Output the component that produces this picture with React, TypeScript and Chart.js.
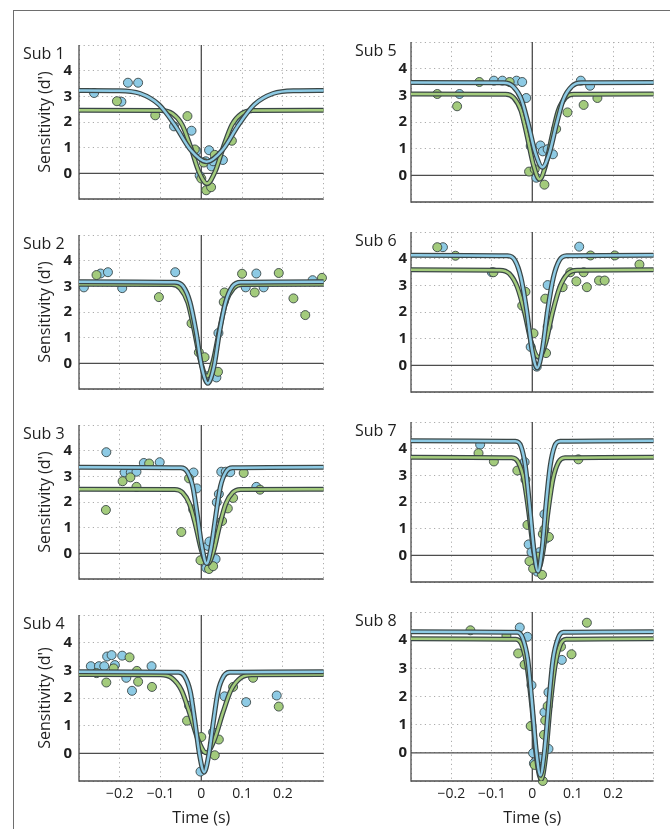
import React, { useEffect, useRef } from 'react';
import { Chart, registerables } from 'chart.js';

Chart.register(...registerables);

// ---------- labels / ticks ----------
const subjectNames = ['Sub 1', 'Sub 2', 'Sub 3', 'Sub 4', 'Sub 5', 'Sub 6', 'Sub 7', 'Sub 8'];
const xGridValues = [-0.3, -0.2, -0.1, 0, 0.1, 0.2, 0.3];
const xLabelValues = [-0.2, -0.1, 0, 0.1, 0.2];
const yGridValues = [-1, 0, 1, 2, 3, 4, 5];
const yLabelValues = [0, 1, 2, 3, 4];
const xTitle = 'Time (s)';
const yTitle = "Sensitivity (d')";

// ---------- data points [time (s), d'] ----------
const sub1Blue = [[-0.263, 3.13], [-0.196, 2.79], [-0.18, 3.53], [-0.155, 3.53], [-0.067, 1.83], [-0.024, 1.66], [-0.012, 0.87], [-0.004, -0.09], [0.011, 0.47], [0.019, 0.9], [0.025, 0.27], [0.029, 0.47], [0.053, 0.52], [0.09, 2.06]];
const sub1Green = [[-0.207, 2.81], [-0.113, 2.26], [-0.034, 2.23], [-0.016, 0.93], [0.0, -0.2], [0.006, 0.42], [0.012, -0.66], [0.024, -0.54], [0.033, 0.72], [0.075, 1.27]];
const sub2Blue = [[-0.288, 2.96], [-0.247, 3.5], [-0.229, 3.55], [-0.194, 2.93], [-0.064, 3.55], [0.016, -0.5], [0.037, -0.55], [0.042, 1.18], [0.109, 2.96], [0.135, 3.5], [0.153, 2.96], [0.273, 3.24]];
const sub2Green = [[-0.257, 3.44], [-0.104, 2.58], [-0.024, 1.56], [-0.006, 0.43], [0.008, 0.24], [0.041, -0.33], [0.055, 2.39], [0.057, 2.76], [0.1, 3.49], [0.131, 2.76], [0.19, 3.52], [0.226, 2.53], [0.255, 1.88], [0.296, 3.33]];
const sub3Blue = [[-0.233, 3.94], [-0.188, 3.15], [-0.173, 3.15], [-0.159, 3.18], [-0.141, 3.52], [-0.102, 3.55], [-0.019, 3.15], [-0.011, 2.53], [0.012, -0.56], [0.016, 0.29], [0.02, 0.46], [0.035, -0.22], [0.038, 1.99], [0.043, 2.31], [0.049, 3.18], [0.06, 3.18], [0.071, 3.16], [0.135, 2.59]];
const sub3Green = [[-0.234, 1.69], [-0.193, 2.81], [-0.174, 2.96], [-0.159, 2.59], [-0.128, 3.5], [-0.049, 0.83], [-0.03, 2.92], [-0.02, 1.71], [-0.002, -0.27], [0.019, -0.61], [0.029, -0.5], [0.051, 1.26], [0.065, 1.75], [0.078, 2.16], [0.104, 3.13], [0.144, 2.48]];
const sub4Blue = [[-0.271, 3.15], [-0.251, 3.15], [-0.238, 3.15], [-0.231, 3.5], [-0.22, 3.55], [-0.212, 3.19], [-0.194, 3.53], [-0.184, 2.73], [-0.17, 2.26], [-0.122, 3.15], [-0.03, 1.72], [-0.002, -0.66], [0.029, 0.76], [0.057, 2.06], [0.11, 1.85], [0.185, 2.09]];
const sub4Green = [[-0.257, 2.9], [-0.233, 2.56], [-0.215, 3.07], [-0.176, 3.47], [-0.158, 2.98], [-0.155, 2.59], [-0.121, 2.4], [-0.035, 1.18], [0.0, 0.59], [0.033, -0.07], [0.043, 0.5], [0.078, 2.4], [0.127, 2.73], [0.19, 1.69]];
const sub5Blue = [[-0.18, 3.05], [-0.095, 3.55], [-0.074, 3.55], [-0.039, 3.55], [-0.025, 3.5], [-0.015, 2.9], [-0.004, 1.1], [0.01, -0.09], [0.02, 1.12], [0.026, 0.9], [0.038, 0.98], [0.051, 0.79], [0.12, 3.55], [0.143, 3.36]];
const sub5Green = [[-0.235, 3.05], [-0.186, 2.59], [-0.131, 3.5], [-0.056, 3.5], [-0.008, 0.14], [0.006, 0.23], [0.03, -0.35], [0.059, 1.74], [0.087, 2.36], [0.127, 2.64], [0.161, 2.9]];
const sub6Blue = [[-0.221, 4.43], [-0.1, 3.49], [-0.004, 0.69], [0.011, -0.05], [0.038, 3.01], [0.038, 1.45], [0.116, 4.45]];
const sub6Green = [[-0.235, 4.43], [-0.19, 4.11], [-0.096, 3.49], [-0.025, 2.24], [-0.017, 2.76], [0.003, 1.2], [0.032, 2.5], [0.034, 0.46], [0.075, 2.93], [0.094, 3.49], [0.109, 3.15], [0.127, 3.49], [0.135, 2.93], [0.144, 4.12], [0.165, 3.18], [0.179, 3.18], [0.204, 4.12], [0.265, 3.78]];
const sub7Blue = [[-0.129, 4.15], [-0.019, 3.5], [-0.009, 0.41], [-0.002, 0.12], [0.004, -0.44], [0.012, -0.61], [0.018, 0.12], [0.03, 1.54], [0.034, 0.63]];
const sub7Green = [[-0.133, 3.83], [-0.095, 3.52], [-0.037, 3.18], [-0.017, 2.84], [-0.012, 1.14], [-0.007, -0.22], [0.002, -0.5], [0.014, -0.05], [0.024, -0.73], [0.026, 0.8], [0.03, 0.97], [0.041, 0.69], [0.114, 3.6]];
const sub8Blue = [[-0.031, 4.45], [-0.012, 4.12], [-0.002, 2.4], [-0.002, 0.95], [0.002, -0.01], [0.004, -0.37], [0.018, -0.2], [0.03, 1.44], [0.04, 2.15], [0.04, 0.14], [0.073, 3.3]];
const sub8Green = [[-0.153, 4.35], [-0.064, 4.15], [-0.035, 3.53], [-0.019, 3.13], [-0.004, 0.95], [0.006, -0.43], [0.026, -1.0], [0.029, 0.64], [0.032, 1.15], [0.038, 1.66], [0.071, 3.77], [0.097, 3.5], [0.135, 4.62]];

// ---------- fitted curves [time (s), d'] ----------
const sub1BlueFit = [[-0.3, 3.23], [-0.202, 3.22], [-0.15, 3.11], [-0.104, 2.68], [-0.065, 1.88], [-0.026, 0.91], [0.013, 0.45], [0.052, 0.91], [0.091, 1.88], [0.13, 2.68], [0.176, 3.11], [0.228, 3.22], [0.3, 3.23]];
const sub1GreenFit = [[-0.3, 2.46], [-0.098, 2.45], [-0.071, 2.33], [-0.047, 1.89], [-0.027, 1.07], [-0.006, 0.07], [0.014, -0.4], [0.034, 0.07], [0.055, 1.07], [0.075, 1.89], [0.099, 2.33], [0.126, 2.45], [0.3, 2.46]];
const sub2BlueFit = [[-0.3, 3.18], [-0.065, 3.16], [-0.045, 3.01], [-0.028, 2.4], [-0.013, 1.25], [0.001, -0.13], [0.016, -0.78], [0.031, -0.13], [0.045, 1.25], [0.06, 2.4], [0.077, 3.01], [0.097, 3.16], [0.3, 3.18]];
const sub2GreenFit = [[-0.3, 3.08], [-0.072, 3.07], [-0.052, 2.92], [-0.033, 2.37], [-0.018, 1.34], [-0.002, 0.09], [0.014, -0.5], [0.029, 0.09], [0.045, 1.34], [0.06, 2.37], [0.079, 2.92], [0.099, 3.07], [0.3, 3.08]];
const sub3BlueFit = [[-0.3, 3.35], [-0.05, 3.33], [-0.035, 3.19], [-0.021, 2.61], [-0.01, 1.52], [0.002, 0.22], [0.013, -0.4], [0.024, 0.22], [0.036, 1.52], [0.047, 2.61], [0.061, 3.19], [0.076, 3.33], [0.3, 3.35]];
const sub3GreenFit = [[-0.3, 2.5], [-0.065, 2.49], [-0.046, 2.37], [-0.029, 1.93], [-0.014, 1.09], [0.001, 0.08], [0.016, -0.4], [0.03, 0.08], [0.045, 1.09], [0.06, 1.93], [0.077, 2.37], [0.096, 2.49], [0.3, 2.5]];
const sub4BlueFit = [[-0.3, 2.95], [-0.056, 2.93], [-0.041, 2.79], [-0.027, 2.23], [-0.016, 1.18], [-0.004, -0.08], [0.007, -0.68], [0.018, -0.08], [0.03, 1.18], [0.041, 2.23], [0.055, 2.79], [0.07, 2.93], [0.3, 2.95]];
const sub4GreenFit = [[-0.3, 2.85], [-0.1, 2.84], [-0.073, 2.73], [-0.049, 2.29], [-0.029, 1.47], [-0.008, 0.49], [0.012, 0.02], [0.032, 0.49], [0.053, 1.47], [0.073, 2.29], [0.097, 2.73], [0.124, 2.84], [0.3, 2.85]];
const sub5BlueFit = [[-0.3, 3.48], [-0.071, 3.47], [-0.048, 3.34], [-0.027, 2.85], [-0.01, 1.93], [0.008, 0.82], [0.025, 0.3], [0.042, 0.82], [0.06, 1.93], [0.077, 2.85], [0.098, 3.34], [0.121, 3.47], [0.3, 3.48]];
const sub5GreenFit = [[-0.3, 3.05], [-0.066, 3.04], [-0.046, 2.91], [-0.028, 2.42], [-0.013, 1.49], [0.003, 0.38], [0.018, -0.15], [0.033, 0.38], [0.049, 1.49], [0.064, 2.42], [0.082, 2.91], [0.102, 3.04], [0.3, 3.05]];
const sub6BlueFit = [[-0.3, 4.13], [-0.061, 4.11], [-0.043, 3.94], [-0.028, 3.29], [-0.014, 2.07], [-0.001, 0.6], [0.012, -0.1], [0.025, 0.6], [0.038, 2.07], [0.052, 3.29], [0.067, 3.94], [0.085, 4.11], [0.3, 4.13]];
const sub6GreenFit = [[-0.3, 3.58], [-0.08, 3.57], [-0.057, 3.44], [-0.037, 2.93], [-0.019, 1.98], [-0.002, 0.84], [0.016, 0.3], [0.033, 0.84], [0.05, 1.98], [0.068, 2.93], [0.088, 3.44], [0.111, 3.57], [0.3, 3.58]];
const sub7BlueFit = [[-0.3, 4.3], [-0.042, 4.28], [-0.028, 4.09], [-0.017, 3.33], [-0.007, 1.92], [0.004, 0.21], [0.014, -0.6], [0.024, 0.21], [0.034, 1.92], [0.044, 3.33], [0.055, 4.09], [0.069, 4.28], [0.3, 4.3]];
const sub7GreenFit = [[-0.3, 3.68], [-0.051, 3.66], [-0.035, 3.5], [-0.021, 2.85], [-0.009, 1.65], [0.003, 0.19], [0.015, -0.5], [0.027, 0.19], [0.039, 1.65], [0.051, 2.85], [0.065, 3.5], [0.081, 3.66], [0.3, 3.68]];
const sub8BlueFit = [[-0.3, 4.3], [-0.037, 4.28], [-0.024, 4.08], [-0.011, 3.29], [-0.001, 1.82], [0.01, 0.04], [0.02, -0.8], [0.03, 0.04], [0.041, 1.82], [0.051, 3.29], [0.064, 4.08], [0.077, 4.28], [0.3, 4.3]];
const sub8GreenFit = [[-0.3, 4.05], [-0.041, 4.03], [-0.026, 3.83], [-0.013, 3.06], [-0.001, 1.62], [0.01, -0.13], [0.022, -0.95], [0.033, -0.13], [0.044, 1.62], [0.056, 3.06], [0.069, 3.83], [0.084, 4.03], [0.3, 4.05]];

const panels = [
  { blue: sub1Blue, green: sub1Green, blueFit: sub1BlueFit, greenFit: sub1GreenFit },
  { blue: sub2Blue, green: sub2Green, blueFit: sub2BlueFit, greenFit: sub2GreenFit },
  { blue: sub3Blue, green: sub3Green, blueFit: sub3BlueFit, greenFit: sub3GreenFit },
  { blue: sub4Blue, green: sub4Green, blueFit: sub4BlueFit, greenFit: sub4GreenFit },
  { blue: sub5Blue, green: sub5Green, blueFit: sub5BlueFit, greenFit: sub5GreenFit },
  { blue: sub6Blue, green: sub6Green, blueFit: sub6BlueFit, greenFit: sub6GreenFit },
  { blue: sub7Blue, green: sub7Green, blueFit: sub7BlueFit, greenFit: sub7GreenFit },
  { blue: sub8Blue, green: sub8Green, blueFit: sub8BlueFit, greenFit: sub8GreenFit },
];

// ---------- style ----------
const FONT = "'Open Sans', 'Noto Sans', sans-serif";
const BLUE = '#8dcae4';
const GREEN = '#a3cb7c';
const OUTLINE = '#3b4747';
const AXIS = '#4d4d4d';
const GRID = '#ababab';

const toXY = (arr: number[][]) => arr.map(([x, y]) => ({ x, y }));

const fmtTime = (v: number) => {
  const r = Math.round(v * 10) / 10;
  if (r === 0) return '0';
  return (r < 0 ? '\u2212' : '') + Math.abs(r).toFixed(1);
};

const decorPlugin = {
  id: 'panelDecor',
  beforeDatasetsDraw(chart: any) {
    const { ctx, chartArea: a, scales } = chart;
    const x0 = scales.x.getPixelForValue(0);
    const y0 = scales.y.getPixelForValue(0);
    ctx.save();
    ctx.setLineDash([]);
    ctx.strokeStyle = AXIS;
    ctx.lineWidth = 1.3;
    ctx.beginPath();
    ctx.moveTo(x0, a.top);
    ctx.lineTo(x0, a.bottom);
    ctx.moveTo(a.left, y0);
    ctx.lineTo(a.right, y0);
    ctx.moveTo(a.left, a.top);
    ctx.lineTo(a.left, a.bottom);
    ctx.lineTo(a.right, a.bottom);
    ctx.stroke();
    ctx.restore();
  },
  afterDraw(chart: any, _args: any, opts: any) {
    const { ctx, chartArea: a } = chart;
    ctx.save();
    ctx.fillStyle = '#1f1f1f';
    ctx.font = `16px ${FONT}`;
    ctx.textBaseline = 'alphabetic';
    ctx.textAlign = 'left';
    ctx.fillText(opts.label, opts.labelX, a.top + 14);
    ctx.restore();
  },
};

function Panel({ index }: { index: number }) {
  const ref = useRef<HTMLCanvasElement | null>(null);
  const col = index < 4 ? 0 : 1;
  const row = index % 4;
  const isBottom = row === 3;
  const g = col === 0
    ? { left: 14, width: 315, axisW: 65, tickPad: 7, labelX: 9 }
    : { left: 340, width: 319, axisW: 71, tickPad: 4, labelX: 15 };
  const plotTop = 33 + 190 * row;
  const top = plotTop - 4;
  const xAxisH = isBottom ? 48 : 4;
  const height = 4 + 178 + xAxisH;

  useEffect(() => {
    const p = panels[index];
    const curve = (data: number[][], color: string, width: number) => ({
      type: 'line' as const,
      data: toXY(data),
      showLine: true,
      borderColor: color,
      borderWidth: width,
      pointRadius: 0,
      fill: false,
      cubicInterpolationMode: 'monotone' as const,
      borderCapStyle: 'round' as const,
      borderJoinStyle: 'round' as const,
    });
    const dots = (data: number[][], color: string) => ({
      type: 'scatter' as const,
      data: toXY(data),
      showLine: false,
      pointRadius: 4.5,
      pointBackgroundColor: color,
      pointBorderColor: OUTLINE,
      pointBorderWidth: 0.9,
      clip: false as const,
    });
    const chart = new Chart(ref.current as HTMLCanvasElement, {
      type: 'scatter',
      data: {
        datasets: [
          curve(p.blueFit, BLUE, 2.5),
          curve(p.blueFit, OUTLINE, 5),
          curve(p.greenFit, GREEN, 2.5),
          curve(p.greenFit, OUTLINE, 5),
          dots(p.green, GREEN),
          dots(p.blue, BLUE),
        ] as any,
      },
      options: {
        responsive: false,
        animation: false,
        events: [],
        layout: { padding: { top: 4, right: 4, left: 0, bottom: 0 } },
        plugins: {
          legend: { display: false },
          tooltip: { enabled: false },
          panelDecor: { label: subjectNames[index], labelX: g.labelX },
        } as any,
        scales: {
          x: {
            type: 'linear',
            min: -0.3,
            max: 0.3,
            afterBuildTicks: (s: any) => {
              s.ticks = xGridValues.map((v) => ({ value: v }));
            },
            afterFit: (s: any) => {
              s.height = xAxisH;
            },
            grid: { color: GRID, lineWidth: 1, drawTicks: false },
            border: { display: false, dash: [1.2, 3.4] },
            ticks: {
              display: isBottom,
              autoSkip: false,
              maxRotation: 0,
              padding: 5,
              color: '#1f1f1f',
              font: { family: FONT, size: 14 },
              callback: (v: any) => (xLabelValues.some((t) => Math.abs(t - v) < 1e-6) ? fmtTime(v) : ''),
            },
            title: {
              display: isBottom,
              text: xTitle,
              color: '#1f1f1f',
              font: { family: FONT, size: 16 },
              padding: { top: 0, bottom: 1 },
            },
          },
          y: {
            type: 'linear',
            min: -1,
            max: 5,
            afterBuildTicks: (s: any) => {
              s.ticks = yGridValues.map((v) => ({ value: v }));
            },
            afterFit: (s: any) => {
              s.width = g.axisW;
            },
            grid: { color: GRID, lineWidth: 1, drawTicks: false },
            border: { display: false, dash: [1.2, 3.4] },
            ticks: {
              autoSkip: false,
              padding: g.tickPad,
              color: '#1f1f1f',
              font: { family: FONT, size: 15, weight: 'bold' },
              callback: (v: any) => (yLabelValues.includes(Math.round(v)) && Math.abs(v - Math.round(v)) < 1e-6 ? String(Math.round(v)) : ''),
            },
            title: {
              display: col === 0,
              text: yTitle,
              color: '#1f1f1f',
              font: { family: FONT, size: 16 },
              padding: { top: 22, bottom: 0 },
            },
          },
        },
      } as any,
      plugins: [decorPlugin],
    });
    return () => chart.destroy();
  }, [index]);

  return (
    <canvas
      ref={ref}
      width={g.width}
      height={height}
      style={{ position: 'absolute', left: g.left, top, width: g.width, height }}
    />
  );
}

export default function App() {
  return (
    <div style={{ position: 'absolute', left: 0, top: 0, width: 670, height: 829, background: '#fff', overflow: 'hidden' }}>
      <div style={{ position: 'absolute', left: 13, top: 10, width: 1, height: 819, background: '#6e6e6e' }} />
      <div style={{ position: 'absolute', left: 13, top: 10, width: 657, height: 1, background: '#6e6e6e' }} />
      {panels.map((_, i) => (
        <Panel key={i} index={i} />
      ))}
    </div>
  );
}
